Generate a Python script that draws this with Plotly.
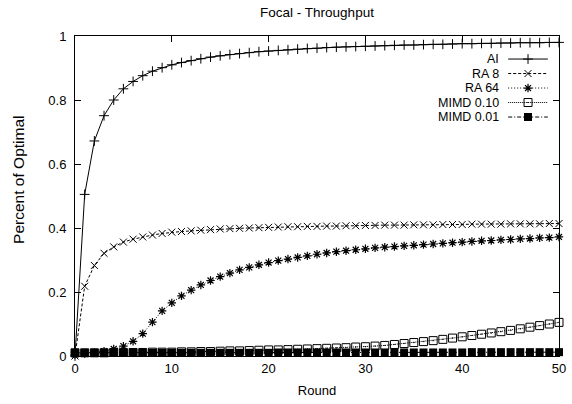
import plotly.graph_objects as go

# Round numbers and throughput (fraction of optimal) per scheme
rounds = list(range(0, 51))

ai = [0.000, 0.505, 0.672, 0.751, 0.800, 0.835, 0.858, 0.876, 0.890, 0.901,
      0.910, 0.917, 0.923, 0.929, 0.934, 0.938, 0.942, 0.945, 0.948, 0.951,
      0.953, 0.955, 0.957, 0.959, 0.961, 0.962, 0.964, 0.965, 0.966, 0.967,
      0.968, 0.969, 0.970, 0.971, 0.972, 0.972, 0.973, 0.974, 0.974, 0.975,
      0.976, 0.976, 0.977, 0.977, 0.978, 0.978, 0.979, 0.979, 0.979, 0.980,
      0.980]

ra8 = [0.000, 0.218, 0.283, 0.321, 0.341, 0.356, 0.365, 0.372, 0.378, 0.383,
       0.387, 0.389, 0.391, 0.393, 0.395, 0.397, 0.398, 0.399, 0.400, 0.401,
       0.402, 0.403, 0.404, 0.404, 0.405, 0.405, 0.406, 0.406, 0.407, 0.407,
       0.408, 0.408, 0.409, 0.409, 0.409, 0.410, 0.410, 0.410, 0.411, 0.411,
       0.411, 0.412, 0.412, 0.412, 0.412, 0.413, 0.413, 0.413, 0.413, 0.414,
       0.414]

ra64 = [0.005, 0.008, 0.010, 0.015, 0.022, 0.031, 0.046, 0.070, 0.106, 0.141,
        0.166, 0.188, 0.206, 0.222, 0.236, 0.248, 0.259, 0.269, 0.277, 0.285,
        0.292, 0.298, 0.303, 0.308, 0.313, 0.318, 0.322, 0.326, 0.329, 0.332,
        0.335, 0.338, 0.340, 0.342, 0.344, 0.346, 0.348, 0.350, 0.352, 0.354,
        0.356, 0.358, 0.360, 0.361, 0.363, 0.364, 0.366, 0.367, 0.369, 0.370,
        0.372]

mimd_010 = [0.010, 0.010, 0.010, 0.010, 0.011, 0.011, 0.011, 0.011, 0.012, 0.012,
            0.012, 0.013, 0.013, 0.014, 0.014, 0.015, 0.016, 0.016, 0.017, 0.018,
            0.019, 0.019, 0.020, 0.021, 0.022, 0.023, 0.024, 0.025, 0.026, 0.028,
            0.029, 0.031, 0.033, 0.036, 0.039, 0.042, 0.045, 0.048, 0.052, 0.056,
            0.060, 0.064, 0.068, 0.072, 0.076, 0.080, 0.085, 0.090, 0.095, 0.100,
            0.105]

mimd_001 = [0.010, 0.010, 0.010, 0.010, 0.010, 0.010, 0.010, 0.010, 0.010, 0.010,
            0.010, 0.010, 0.010, 0.010, 0.010, 0.010, 0.010, 0.010, 0.010, 0.010,
            0.010, 0.011, 0.011, 0.011, 0.011, 0.011, 0.011, 0.011, 0.011, 0.011,
            0.011, 0.011, 0.011, 0.011, 0.011, 0.011, 0.011, 0.011, 0.011, 0.011,
            0.011, 0.012, 0.012, 0.012, 0.012, 0.012, 0.012, 0.012, 0.012, 0.012,
            0.012]

series_names = ["AI", "RA 8", "RA 64", "MIMD 0.10", "MIMD 0.01"]
series_values = [ai, ra8, ra64, mimd_010, mimd_001]

x_ticks = [0, 10, 20, 30, 40, 50]
y_ticks = [0, 0.2, 0.4, 0.6, 0.8, 1]
y_tick_labels = ["0", "0.2", "0.4", "0.6", "0.8", "1"]

# gnuplot-like line/point styles, one per series
styles = [
    dict(dash="solid", symbol="cross-thin", size=7, mlw=1.0),
    dict(dash="3px,2px", symbol="x-thin", size=7, mlw=1.0),
    dict(dash="1px,2px", symbol="asterisk", size=7, mlw=1.2),
    dict(dash="1px,1px", symbol="square-open-dot", size=8, mlw=1.0),
    dict(dash="4px,2px,1px,2px", symbol="square", size=8, mlw=0),
]

FONT = "Liberation Sans, Arial, Helvetica, sans-serif"
INK = "black"

fig = go.Figure()

for name, vals, st in zip(series_names, series_values, styles):
    fig.add_trace(go.Scatter(
        x=rounds, y=vals, name=name, mode="lines+markers",
        line=dict(color=INK, width=1, dash=st["dash"]),
        marker=dict(symbol=st["symbol"], size=st["size"], color=INK,
                    line=dict(color=INK, width=st["mlw"])),
        cliponaxis=False, showlegend=False,
    ))

# Key in the upper right: label text followed by a line/point sample
key_top = 0.928          # fraction of plot height for the first row
key_step = 0.0453        # row spacing
key_text_x = 0.878
key_x0, key_x1 = 0.895, 0.977
annotations = []
for i, (name, st) in enumerate(zip(series_names, styles)):
    yk = key_top - i * key_step
    annotations.append(dict(
        text=name, xref="paper", yref="paper", x=key_text_x, y=yk,
        xanchor="right", yanchor="middle", showarrow=False, borderpad=0,
        font=dict(family=FONT, size=12.5, color=INK),
    ))
    fig.add_trace(go.Scatter(
        x=[key_x0, key_x1], y=[yk, yk], xaxis="x2", yaxis="y2",
        mode="lines", line=dict(color=INK, width=1, dash=st["dash"]),
        showlegend=False, hoverinfo="skip",
    ))
    fig.add_trace(go.Scatter(
        x=[(key_x0 + key_x1) / 2], y=[yk], xaxis="x2", yaxis="y2",
        mode="markers",
        marker=dict(symbol=st["symbol"], size=st["size"], color=INK,
                    line=dict(color=INK, width=st["mlw"])),
        showlegend=False, hoverinfo="skip", cliponaxis=False,
    ))

# Vertical axis label, placed to the left of the tick labels
annotations.append(dict(
    text="Percent of Optimal", xref="paper", yref="paper",
    x=-0.118, y=0.55, xanchor="center", yanchor="middle",
    textangle=-90, showarrow=False,
    font=dict(family=FONT, size=15.5, color=INK),
))

axis_common = dict(
    showline=True, linecolor=INK, linewidth=1, mirror="allticks",
    ticks="inside", ticklen=6, tickwidth=1, tickcolor=INK,
    showgrid=False, zeroline=False, automargin=False,
    tickfont=dict(family=FONT, size=13, color=INK),
)

fig.update_layout(
    width=572, height=404,
    margin=dict(l=75, r=13, t=36, b=48, autoexpand=False),
    paper_bgcolor="white", plot_bgcolor="white",
    font=dict(family=FONT, size=13, color=INK),
    title=dict(text="Focal - Throughput", x=0.5, xref="paper",
               y=1 - 12 / 404, yref="container", yanchor="middle",
               font=dict(family=FONT, size=13.5, color=INK)),
    xaxis=dict(range=[0, 50], tickvals=x_ticks,
               title=dict(text="Round", standoff=11,
                          font=dict(family=FONT, size=13, color=INK)),
               **axis_common),
    yaxis=dict(range=[0, 1], tickvals=y_ticks, ticktext=y_tick_labels,
               ticklabelstandoff=5, **axis_common),
    xaxis2=dict(range=[0, 1], overlaying="x", visible=False, fixedrange=True),
    yaxis2=dict(range=[0, 1], overlaying="y", visible=False, fixedrange=True),
    annotations=annotations,
    showlegend=False,
)

fig.write_html("out.html")
